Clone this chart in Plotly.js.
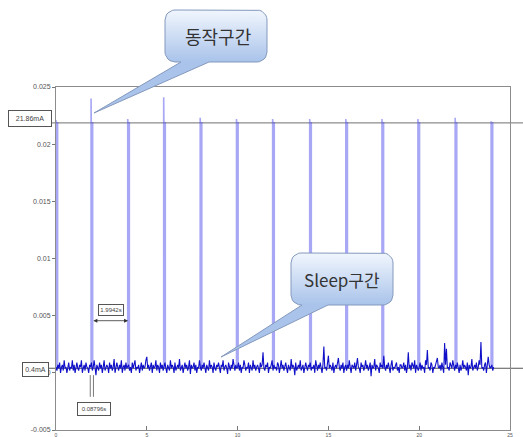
<!DOCTYPE html>
<html><head><meta charset="utf-8">
<script src="https://cdn.plot.ly/plotly-3.0.1.min.js"></script>
<style>html,body{margin:0;padding:0;background:#fff}#chart{width:523px;height:437px}</style>
</head><body><div id="chart"></div>
<script>
// ---- values ----
var sampleStep = 0.05; // s between baseline samples
var baselineTenthsMA = [ // sleep current, in 0.1 mA
5,2,7,4,9,0,5,7,2,11,4,5,0,7,9,2,5,4,11,2,
7,0,5,9,4,2,7,5,11,0,4,7,2,9,5,4,0,7,5,9,
2,5,11,4,-2,7,5,2,9,4,7,0,5,11,2,4,7,5,0,9,
4,7,2,5,12,0,4,9,5,2,7,4,11,0,5,7,2,9,4,5,
7,2,5,0,9,4,7,11,2,5,4,7,0,5,9,2,7,4,5,11,
14,4,7,2,5,9,0,7,4,5,11,2,7,5,0,9,4,7,2,5,
9,4,0,7,5,2,11,4,7,5,0,9,2,5,7,4,12,2,5,7,
0,5,9,4,7,2,5,11,-1,7,4,5,9,2,7,0,5,4,11,5,
2,7,4,9,5,0,7,5,2,11,4,7,5,0,9,4,2,7,5,9,
4,0,7,5,11,2,5,7,4,-1,9,5,2,7,4,12,5,2,7,4,
5,9,2,7,0,5,4,11,7,2,5,4,9,0,7,5,2,11,4,7,
2,5,7,4,0,9,5,7,18,4,2,7,5,9,0,5,4,7,11,2,
7,4,5,2,9,7,0,5,11,4,7,2,5,9,4,0,7,5,2,12,
4,7,5,-2,9,2,5,7,4,11,2,5,7,0,4,9,5,2,7,5,
9,2,5,4,7,0,11,5,2,7,4,9,5,0,7,23,4,5,2,7,
15,4,7,5,2,9,0,5,7,4,11,13,5,2,7,4,9,0,5,7,
2,7,4,11,5,0,7,5,4,9,2,7,13,5,4,0,9,5,7,2,
5,11,4,7,2,5,9,-3,7,4,5,12,2,7,5,4,0,9,5,7,
4,15,5,2,7,4,9,5,0,7,11,2,5,4,7,9,2,5,0,7,
7,4,5,9,2,7,0,5,18,4,7,2,9,5,4,11,0,7,5,2,
5,9,2,7,4,5,0,11,7,20,4,5,2,9,7,0,5,4,7,11,
13,5,4,7,2,9,5,0,26,7,21,4,5,2,9,7,4,11,5,2,
7,4,9,5,0,7,2,5,11,4,7,5,2,9,-2,7,4,5,12,2,
5,7,4,9,2,5,11,7,27,4,5,2,7,9,0,5,14,7,4,5,
7,2,5];
var pulseStart = [0.00,1.93,3.95,5.93,7.94,9.94,11.93,13.97,15.96,17.95,19.93,21.98,23.96]; // s
var pulsePeak  = [0.0221,0.0240,0.0222,0.0241,0.0223,0.0222,0.0222,0.0222,0.0222,0.0222,0.0222,0.0223,0.0220]; // A
var pulseWidth = 0.08796;  // s
var periodS    = 1.9942;   // s
var activeLevel = 0.02186; // A
var sleepLevel  = 0.0004;  // A
var xTicks = [0,5,10,15,20,25];
var yTicks = [-0.005,0,0.005,0.01,0.015,0.02,0.025];
var yTickText = ['-0.005','0','0.005','0.01','0.015','0.02','0.025'];
var activeLabel = '21.86mA', sleepLabel = '0.4mA', periodLabel = '1.9942s', widthLabel = '0.08796s';
var bubble1Text = '동작구간', bubble2Text = 'Sleep구간';

// ---- layout constants (canvas pixels) ----
var W = 523, H = 437;
var plotL = 56, plotR = 510, plotT = 87, plotB = 430;

// baseline trace
var bx = [], by = [];
for (var i = 0; i < baselineTenthsMA.length; i++) { bx.push(i * sampleStep); by.push(baselineTenthsMA[i] * 1e-4); }

// pulse trace
var px = [], py = [];
for (var k = 0; k < pulseStart.length; k++) {
  var s = pulseStart[k];
  px.push(s, s, s + 0.012, s + pulseWidth, s + pulseWidth, null);
  py.push(sleepLevel, pulsePeak[k], activeLevel, activeLevel, sleepLevel, null);
}

function bubble(b) {
  var pts = [];
  function arc(cx, cy, a0, a1) {
    for (var j = 0; j <= 6; j++) { var a = a0 + (a1 - a0) * j / 6; pts.push([cx + b.r * Math.cos(a), cy + b.r * Math.sin(a)]); }
  }
  arc(b.x0 + b.r, b.y0 + b.r, Math.PI, 1.5 * Math.PI);
  arc(b.x1 - b.r, b.y0 + b.r, 1.5 * Math.PI, 2 * Math.PI);
  arc(b.x1 - b.r, b.y1 - b.r, 0, 0.5 * Math.PI);
  pts.push([b.tb, b.y1]); pts.push([b.tipX, b.tipY]); pts.push([b.ta, b.y1]);
  arc(b.x0 + b.r, b.y1 - b.r, 0.5 * Math.PI, Math.PI);
  pts.push(pts[0]);
  return {
    type: 'scatter', mode: 'lines', xaxis: 'x2', yaxis: 'y2', hoverinfo: 'skip', showlegend: false,
    x: pts.map(function (p) { return p[0]; }), y: pts.map(function (p) { return H - p[1]; }),
    fill: 'toself', fillcolor: '#cbdcf3',
    fillgradient: { type: 'vertical', start: H - b.y1, stop: H - b.y0, colorscale: [[0, '#a9c3ea'], [1, '#f1f6fd']] },
    line: { color: '#8499bd', width: 1 }
  };
}
var b1 = { x0: 165, x1: 267, y0: 10, y1: 62, r: 10, ta: 181, tb: 209, tipX: 94, tipY: 113 };
var b2 = { x0: 291, x1: 393, y0: 253, y1: 305, r: 10, ta: 302, tb: 328, tipX: 221, tipY: 357 };

var traces = [
  { type: 'scatter', mode: 'lines', x: px, y: py, line: { color: 'rgba(80,80,235,0.5)', width: 1.6 }, hoverinfo: 'skip', showlegend: false, connectgaps: false },
  { type: 'scatter', mode: 'lines', x: bx, y: by, line: { color: '#1010c8', width: 1.1 }, hoverinfo: 'skip', showlegend: false },
  bubble(b1), bubble(b2)
];

var tickFont = { family: 'Liberation Sans, Arial, sans-serif', size: 7, color: '#555' };
function boxNote(text, cx, cy, w, h, size) {
  return { xref: 'x2', yref: 'y2', x: cx, y: H - cy, text: text, showarrow: false, bgcolor: '#fff',
    bordercolor: '#555', borderwidth: 1, borderpad: 1, width: w, height: h,
    font: { family: 'Liberation Sans, Arial, sans-serif', size: size, color: '#444' } };
}
var cFont = { family: 'Noto Sans CJK KR, sans-serif', color: '#333' };

var layout = {
  width: W, height: H, margin: { l: 0, r: 0, t: 0, b: 0 },
  paper_bgcolor: '#fff', plot_bgcolor: 'rgba(0,0,0,0)', showlegend: false,
  xaxis: { domain: [plotL / W, plotR / W], range: [0, 25], tickvals: xTicks, ticks: 'inside', ticklen: 4, tickcolor: '#777',
    showline: true, linecolor: '#8c8c8c', linewidth: 1, mirror: true, showgrid: false, zeroline: false,
    tickfont: { family: tickFont.family, size: 5, color: '#555' }, anchor: 'y' },
  yaxis: { domain: [(H - plotB) / H, (H - plotT) / H], range: [-0.005, 0.025], tickvals: yTicks, ticktext: yTickText, ticks: 'outside', ticklen: 3, tickcolor: '#777',
    showline: true, linecolor: '#8c8c8c', linewidth: 1, mirror: true, showgrid: false, zeroline: false, tickfont: tickFont, anchor: 'x' },
  xaxis2: { domain: [0, 1], range: [0, W], visible: false, anchor: 'y2', fixedrange: true },
  yaxis2: { domain: [0, 1], range: [0, H], visible: false, anchor: 'x2', fixedrange: true },
  shapes: [
    { type: 'line', xref: 'paper', yref: 'y', x0: 51 / W, x1: 1, y0: activeLevel, y1: activeLevel, line: { color: '#707070', width: 1 }, layer: 'below' },
    { type: 'line', xref: 'paper', yref: 'y', x0: 48 / W, x1: 1, y0: sleepLevel, y1: sleepLevel, line: { color: '#555', width: 1 }, layer: 'below' },
    { type: 'line', xref: 'x', yref: 'y', x0: pulseStart[1] - pulseWidth / 2, x1: pulseStart[1] - pulseWidth / 2, y0: -0.0002, y1: -0.0021, line: { color: '#555', width: 0.8 } },
    { type: 'line', xref: 'x', yref: 'y', x0: pulseStart[1] + 1.5 * pulseWidth, x1: pulseStart[1] + 1.5 * pulseWidth, y0: -0.0002, y1: -0.0021, line: { color: '#555', width: 0.8 } }
  ],
  annotations: [
    boxNote(activeLabel, 29.5, 118, 40, 13, 7),
    boxNote(sleepLabel, 35, 369, 23, 11, 7),
    boxNote(periodLabel, 111, 309.5, 22, 8, 6),
    boxNote(widthLabel, 93.5, 408.5, 30, 10, 6),
    { xref: 'x', yref: 'y', axref: 'x', ayref: 'y', x: pulseStart[1] + pulseWidth / 2 + periodS, y: 0.00456,
      ax: pulseStart[1] + pulseWidth / 2, ay: 0.00456, text: '', showarrow: true, arrowside: 'end+start',
      arrowhead: 2, arrowsize: 1, arrowwidth: 0.8, arrowcolor: '#333', standoff: 0, startstandoff: 0 },
    { xref: 'x2', yref: 'y2', x: 218, y: H - 36, text: bubble1Text, showarrow: false, font: Object.assign({ size: 18 }, cFont) },
    { xref: 'x2', yref: 'y2', x: 342, y: H - 279, text: bubble2Text, showarrow: false, font: Object.assign({ size: 17 }, cFont) }
  ]
};

Plotly.newPlot('chart', traces, layout, { staticPlot: true, displayModeBar: false });
</script></body></html>
